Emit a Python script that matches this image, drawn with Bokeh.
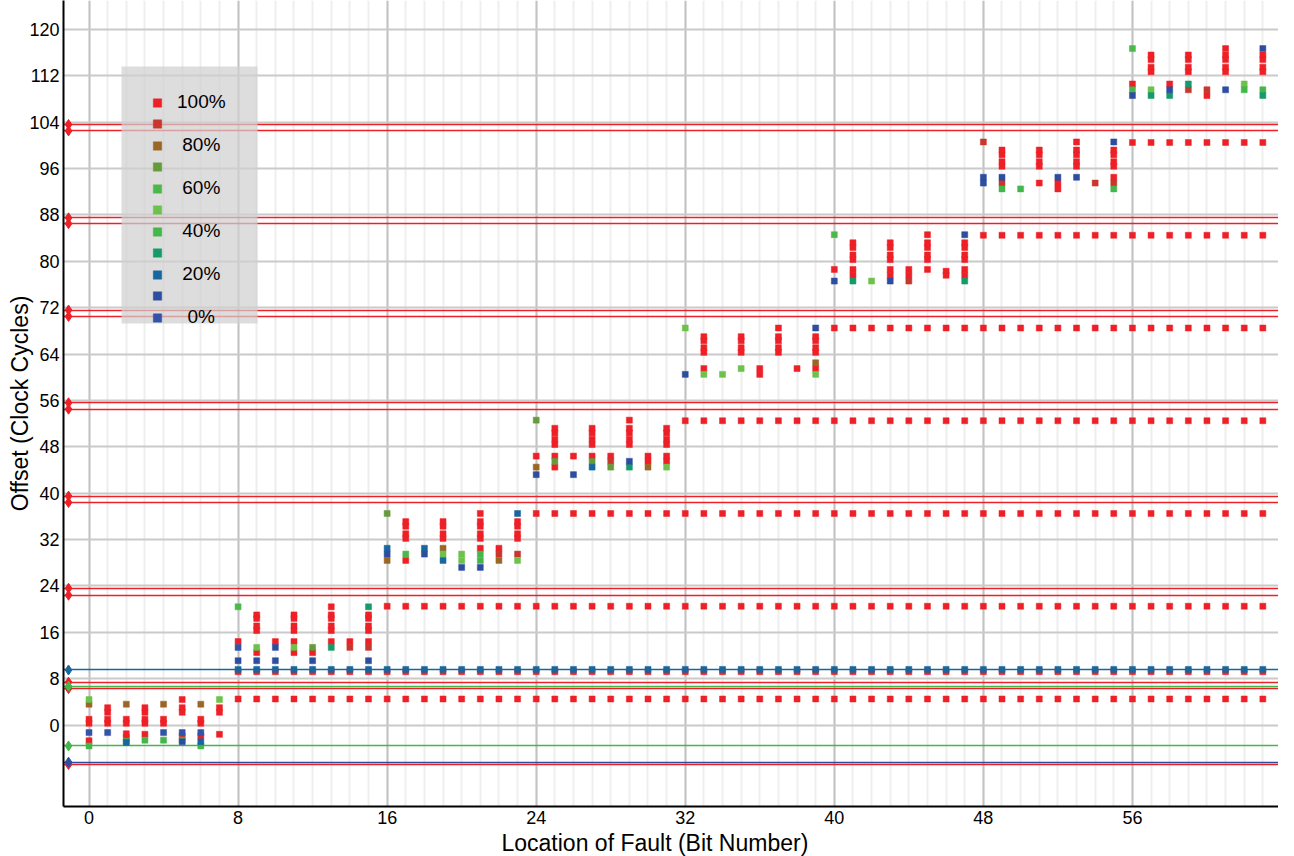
from bokeh.plotting import figure
from bokeh.models import FixedTicker, Range1d, Legend, LegendItem, Title, BoxAnnotation
from bokeh.core.properties import value
from bokeh.embed import file_html
from bokeh.resources import INLINE

FONT = "Liberation Sans"
NB = "\u00a0"

# ---------------- data ----------------
series_labels = ["100%", "", NB + "80%", "", NB + "60%", "", NB + "40%", "", NB + "20%", "", NB + NB + "0%"]
series_colors = ["#ee2027", "#c8372d", "#9a6626", "#669b3c", "#4bb94a", "#6cc24a",
                 "#45b649", "#169a6a", "#17679e", "#2d4d9e", "#3352a8"]

# offsets (clock cycles) per bit number, for each series
off_100 = {
    0: [1.0, 0.3, -2.7], 1: [3.0, 2.2, 1.0, 0.3], 2: [1.0, 0.3, -1.5, -2.2],
    3: [3.0, 2.2, 1.0, 0.3, -1.6], 4: [1.0, 0.3], 5: [4.4, 3.0, 2.2, -1.9],
    6: [1.0, 0.3, -1.9], 7: [3.0, 2.2, -1.6],
    8: [14.4], 9: [19.0, 18.4, 17.1, 16.3, 12.5], 10: [14.4],
    11: [19.0, 18.4, 17.1, 16.3, 14.4, 12.5], 12: [12.5],
    13: [20.4, 19.0, 18.4, 17.1, 16.3, 14.4], 14: [14.4],
    15: [19.0, 18.4, 17.1, 16.3, 14.4],
    17: [35.1, 34.3, 33.0, 32.2, 28.4], 19: [35.1, 34.3, 33.0, 32.2],
    21: [36.5, 35.1, 34.3, 33.0, 32.2, 30.5], 22: [30.5], 23: [35.1, 34.3, 33.0, 32.2],
    24: [46.4], 25: [51.2, 50.4, 49.3, 48.4, 46.4, 44.5], 26: [46.4],
    27: [51.2, 50.4, 49.3, 48.4, 46.4], 28: [46.4], 29: [52.6, 51.2, 50.4, 49.3, 48.4],
    30: [46.4, 45.5], 31: [51.2, 50.4, 49.3, 48.4, 46.4, 45.5],
    33: [67.0, 66.3, 65.1, 64.3, 61.5], 35: [67.0, 66.3, 65.1, 64.3], 36: [61.5, 60.5],
    37: [68.5, 67.0, 66.3, 65.1, 64.3], 38: [61.5], 39: [67.0, 66.3, 65.1, 64.3, 61.5],
    40: [78.6], 41: [83.2, 82.4, 81.1, 80.3, 78.6, 77.6],
    43: [83.2, 82.4, 81.1, 80.3, 78.6, 77.6], 44: [78.6, 77.6],
    45: [84.6, 83.2, 82.4, 81.1, 80.3, 78.6], 46: [78.3, 77.6],
    47: [83.2, 82.4, 81.1, 80.3, 78.6, 77.6],
    49: [99.2, 98.4, 97.2, 96.4], 51: [99.2, 98.4, 97.2, 96.4, 93.5], 52: [93.5, 92.5],
    53: [100.6, 99.2, 98.4, 97.2, 96.4], 55: [99.2, 98.4, 97.2, 96.4, 94.5],
    56: [110.6], 57: [115.6, 114.8, 113.5, 112.7], 58: [110.6],
    59: [115.6, 114.8, 113.5, 112.7], 60: [108.6], 61: [116.7, 115.6, 114.8, 113.5, 112.7],
    63: [115.6, 114.8, 113.5, 112.7],
}
off_90 = {14: [13.4], 15: [13.4], 22: [29.5], 23: [29.5], 28: [45.5], 44: [76.6],
          48: [100.6], 49: [93.5], 54: [93.5], 55: [93.5], 59: [109.6], 60: [109.6]}
off_80 = {0: [3.6], 2: [3.6], 4: [3.6], 6: [3.6], 16: [28.4], 19: [30.5], 22: [28.4],
          24: [44.5], 30: [44.5], 39: [62.5]}
off_70 = {12: [13.4], 16: [36.5], 24: [52.6], 25: [45.5], 27: [45.5], 28: [44.5]}
off_60 = {8: [20.4], 17: [29.5], 40: [84.6], 56: [116.7]}
off_50 = {0: [4.4], 7: [4.4], 9: [13.4], 11: [13.4], 19: [29.5], 20: [29.5, 28.4],
          23: [28.4], 31: [44.5], 32: [68.5], 33: [60.5], 34: [60.5], 35: [61.5],
          39: [60.5], 42: [76.6], 57: [109.6], 62: [110.6]}
off_40 = {0: [-3.6], 2: [-2.8], 3: [-2.6], 4: [-2.6], 5: [-2.6], 6: [-3.6],
          21: [29.5, 28.4], 49: [92.5], 50: [92.5], 55: [92.5], 56: [109.6],
          62: [109.6], 63: [109.6]}
off_30 = {13: [13.4], 15: [20.4], 29: [44.5], 41: [76.6], 47: [76.6], 57: [108.6],
          58: [108.6], 59: [110.6], 63: [108.6]}
off_20 = {2: [-3.0], 6: [-2.9], 16: [30.5], 18: [30.5], 19: [28.4], 23: [36.5], 27: [44.5]}
off_10 = {5: [-2.9], 8: [11.1], 9: [11.1], 10: [13.4, 11.1], 12: [11.1], 15: [11.1],
          16: [29.5], 18: [29.5], 20: [27.2], 21: [27.2], 24: [43.2], 26: [43.2],
          29: [45.5], 32: [60.5], 39: [68.5], 40: [76.6], 43: [76.6], 47: [84.6],
          48: [94.5, 93.5], 49: [94.5], 52: [94.5], 53: [94.5], 55: [100.6],
          56: [108.6], 58: [109.6], 61: [109.6], 63: [116.7]}
off_0 = {0: [-1.3], 1: [-1.3], 4: [-1.3], 5: [-1.3], 6: [-1.3], 8: [13.4]}

series_points = [off_100, off_90, off_80, off_70, off_60, off_50,
                 off_40, off_30, off_20, off_10, off_0]

# constant (saturated) rows seen for every later bit
n_bits = 64
saturated_levels_100 = [4.5, 20.5, 36.5, 52.5, 68.5, 84.5, 100.5]
saturated_from_bit = [8, 16, 24, 32, 40, 48, 56]
settled_100 = 9.2      # red row under the 20% row, bits >= 8
settled_20 = 9.6       # 20% row, bits >= 8
settled_from_bit = 8

# horizontal reference lines (offset values) per series index
ref_lines = {
    0: [103.6, 102.5, 87.5, 86.5, 71.6, 70.5, 55.6, 54.5, 39.5, 38.4, 23.6, 22.4, 7.4, 6.3, -6.8],
    8: [9.5],
    6: [6.7, -3.6],
    9: [-6.4],
}
ref_marker_bit = -1.1

x_ticks = [0, 8, 16, 24, 32, 40, 48, 56]
y_ticks = list(range(0, 121, 8))

# ---------------- figure ----------------
p = figure(width=1278, height=856, output_backend="svg", toolbar_location=None,
           x_range=Range1d(-1.37, 63.84), y_range=Range1d(-14.05, 125.0),
           min_border_left=63, min_border_right=0, min_border_top=0, min_border_bottom=0)
p.outline_line_color = None
p.background_fill_color = "white"

p.xaxis.ticker = FixedTicker(ticks=x_ticks, minor_ticks=list(range(0, n_bits)))
p.yaxis.ticker = FixedTicker(ticks=y_ticks, minor_ticks=[])
for ax in (p.xaxis, p.yaxis):
    ax.axis_line_color = "black"
    ax.axis_line_width = 2
    ax.major_tick_line_color = None
    ax.minor_tick_line_color = None
    ax.major_tick_out = 0
    ax.major_tick_in = 0
    ax.minor_tick_out = 0
    ax.minor_tick_in = 0
    ax.major_label_text_font = FONT
    ax.major_label_text_font_size = "18px"
    ax.major_label_text_color = "black"
    ax.major_label_standoff = 4
    ax.axis_label_text_font = FONT
    ax.axis_label_text_font_size = "23px"
    ax.axis_label_text_font_style = "normal"
    ax.axis_label_text_color = "black"
p.yaxis.axis_label = "Offset (Clock Cycles)"
p.yaxis.axis_label_standoff = -7

xlabel = Title(text="Location of Fault (Bit Number)", align="left", offset=438,
               text_font=FONT, text_font_size="23px", text_font_style="normal",
               text_color="black", standoff=2)
p.add_layout(xlabel, "below")

p.xgrid.grid_line_color = "#c2c2c2"
p.xgrid.grid_line_width = 2
p.xgrid.minor_grid_line_color = "#eeeeee"
p.xgrid.minor_grid_line_width = 2
p.ygrid.grid_line_color = "#cacaca"
p.ygrid.grid_line_width = 2

# reference lines + diamonds at left edge
for idx, ys in ref_lines.items():
    p.hspan(y=ys, line_color=series_colors[idx], line_width=1.6)
for idx, ys in ref_lines.items():
    p.scatter(x=[ref_marker_bit] * len(ys), y=ys, marker="diamond", size=10,
              fill_color=series_colors[idx], line_color=series_colors[idx])

# points
renderers = []
for i, pts in enumerate(series_points):
    xs, ys = [], []
    if i == 0:
        for lvl, start in zip(saturated_levels_100, saturated_from_bit):
            for b in range(start, n_bits):
                xs.append(b); ys.append(lvl)
        for b in range(settled_from_bit, n_bits):
            xs.append(b); ys.append(settled_100)
    if i == 8:
        for b in range(settled_from_bit, n_bits):
            xs.append(b); ys.append(settled_20)
    for b, vals in pts.items():
        for v in vals:
            xs.append(b); ys.append(v)
    r = p.scatter(x=xs, y=ys, marker="square", size=6,
                  fill_color=series_colors[i], line_color=series_colors[i], line_width=0.5)
    renderers.append(r)

# grey legend panel
legend_box = BoxAnnotation(left=121, right=257, top=66, bottom=323,
                           left_units="canvas", right_units="canvas",
                           top_units="canvas", bottom_units="canvas",
                           fill_color="#d0d0d0", fill_alpha=0.72, line_color=None)
p.add_layout(legend_box)

items = [LegendItem(label=value(lbl), renderers=[r]) for lbl, r in zip(series_labels, renderers)]
legend = Legend(items=items, location=(74, 478),
                padding=0, spacing=0, glyph_width=40, glyph_height=21, label_height=21,
                label_standoff=0,
                label_text_font=FONT, label_text_font_size="19px", label_text_color="black",
                background_fill_alpha=0, border_line_color=None)
p.add_layout(legend, "center")

open("out.html", "w").write(file_html(p, INLINE))
